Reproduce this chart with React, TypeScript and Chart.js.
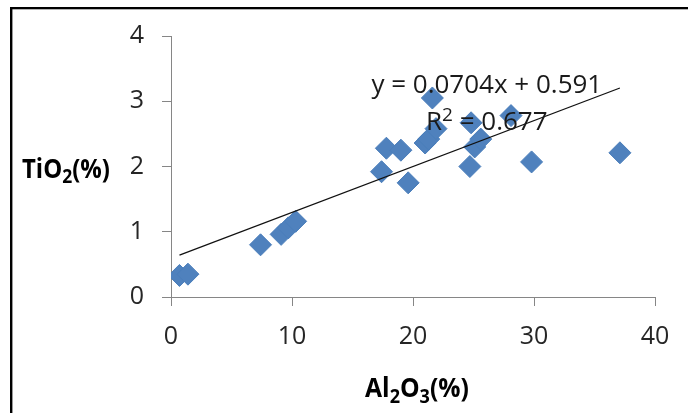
import React, { useEffect, useRef } from 'react';
import { Chart, registerables } from 'chart.js';

Chart.register(...registerables);

// ---- data ----
const AL2O3 = [0.7, 1.4, 7.4, 9.1, 9.7, 10.3, 17.4, 17.8, 19.0, 19.6, 21.0, 21.3, 21.9, 21.6, 24.7, 24.8, 25.1, 25.6, 28.1, 29.8, 37.1];
const TIO2 = [0.33, 0.35, 0.80, 0.96, 1.06, 1.16, 1.92, 2.28, 2.25, 1.75, 2.36, 2.42, 2.58, 3.05, 2.00, 2.67, 2.30, 2.42, 2.78, 2.07, 2.21];
const X_TICKS = [0, 10, 20, 30, 40];
const Y_TICKS = [0, 1, 2, 3, 4];
const TREND_SLOPE = 0.0704;
const TREND_INTERCEPT = 0.591;
const TREND_RANGE = [0.7, 37.1];
const EQUATION = 'y = 0.0704x + 0.591';
const R2_PARTS = [{ t: 'R' }, { t: '2', sup: true }, { t: ' = 0.677' }];
const Y_TITLE = [{ t: 'TiO' }, { t: '2', sub: true }, { t: '(%)' }];
const X_TITLE = [{ t: 'Al' }, { t: '2', sub: true }, { t: 'O' }, { t: '3', sub: true }, { t: '(%)' }];

const FONT = '"Open Sans", "Liberation Sans", sans-serif';

type Part = { t: string; sub?: boolean; sup?: boolean };

function drawRich(ctx: CanvasRenderingContext2D, parts: Part[], x: number, y: number, align: 'left' | 'center', size: number, bold: boolean, color: string, squeeze = 1) {
  const w = bold ? 'bold ' : '';
  const fontFor = (p: Part) => `${w}${p.sub || p.sup ? Math.round(size * 0.72) : size}px ${FONT}`;
  let total = 0;
  const widths = parts.map((p) => {
    ctx.font = fontFor(p);
    const m = ctx.measureText(p.t).width;
    total += m;
    return m;
  });
  ctx.save();
  ctx.translate(x, y);
  ctx.scale(squeeze, 1);
  let cx = align === 'center' ? -total / 2 : 0;
  ctx.fillStyle = color;
  ctx.textBaseline = 'alphabetic';
  ctx.textAlign = 'left';
  parts.forEach((p, i) => {
    ctx.font = fontFor(p);
    let dy = 0;
    if (p.sub) dy = size * 0.22;
    if (p.sup) dy = -size * 0.36;
    ctx.fillText(p.t, cx, dy);
    cx += widths[i];
  });
  ctx.restore();
}

const annotations = {
  id: 'annotations',
  beforeDraw(chart: any) {
    const ctx = chart.ctx as CanvasRenderingContext2D;
    ctx.save();
    ctx.fillStyle = '#ffffff';
    ctx.fillRect(0, 0, chart.width, chart.height);
    ctx.fillStyle = '#000000';
    ctx.fillRect(10, 7, chart.width - 10, 2.3);
    ctx.fillRect(10, 7, 2.4, chart.height - 7);
    ctx.restore();
  },
  afterDraw(chart: any) {
    const ctx = chart.ctx as CanvasRenderingContext2D;
    const xs = chart.scales.x;
    const ys = chart.scales.y;
    const area = chart.chartArea;
    // trendline label
    drawRich(ctx, [{ t: EQUATION }], xs.getPixelForValue(26.1), ys.getPixelForValue(3.12), 'center', 26, false, '#1a1a1a');
    drawRich(ctx, R2_PARTS, xs.getPixelForValue(26.1), ys.getPixelForValue(2.56), 'center', 26, false, '#1a1a1a');
    // axis titles
    drawRich(ctx, Y_TITLE, area.left - 149, ys.getPixelForValue(2) + 11, 'left', 26, true, '#000000', 0.92);
    drawRich(ctx, X_TITLE, (area.left + area.right) / 2 + 4, area.bottom + 100, 'center', 26, true, '#000000', 0.95);
  },
};

export default function App() {
  const ref = useRef<HTMLCanvasElement>(null);
  useEffect(() => {
    if (!ref.current) return;
    const scatter = AL2O3.map((x, i) => ({ x, y: TIO2[i] }));
    const trend = TREND_RANGE.map((x) => ({ x, y: TREND_SLOPE * x + TREND_INTERCEPT }));
    const chart = new Chart(ref.current, {
      type: 'scatter',
      data: {
        datasets: [
          {
            type: 'line',
            data: trend,
            borderColor: '#111111',
            borderWidth: 1.3,
            pointRadius: 0,
            fill: false,
          } as any,
          {
            data: scatter,
            pointStyle: 'rectRot',
            pointRadius: 11,
            backgroundColor: '#4F81BD',
            borderColor: '#4A7EBB',
            borderWidth: 1,
          },
        ],
      },
      plugins: [annotations],
      options: {
        animation: false,
        responsive: false,
        events: [],
        layout: { padding: { left: 0, right: 33, top: 36, bottom: 0 } },
        plugins: { legend: { display: false }, tooltip: { enabled: false }, title: { display: false } },
        scales: {
          x: {
            type: 'linear',
            min: 0,
            max: 40,
            afterBuildTicks: (s: any) => { s.ticks = X_TICKS.map((v) => ({ value: v })); },
            afterFit: (s: any) => { s.height = 116; },
            ticks: { font: { family: FONT, size: 25 }, color: '#262626', padding: 16, maxRotation: 0 },
            grid: { drawOnChartArea: false, drawTicks: true, tickLength: 9, color: '#868686' },
            border: { color: '#868686', width: 1 },
          },
          y: {
            type: 'linear',
            min: 0,
            max: 4,
            afterBuildTicks: (s: any) => { s.ticks = Y_TICKS.map((v) => ({ value: v })); },
            afterFit: (s: any) => { s.width = 171; },
            ticks: { font: { family: FONT, size: 25 }, color: '#262626', padding: 18 },
            grid: { drawOnChartArea: false, drawTicks: true, tickLength: 9, color: '#868686' },
            border: { color: '#868686', width: 1 },
          },
        },
      },
    });
    return () => chart.destroy();
  }, []);
  return (
    <div style={{ position: 'absolute', left: 0, top: 0, width: 688, height: 413 }}>
      <canvas ref={ref} width={688} height={413} style={{ width: 688, height: 413, display: 'block' }} />
    </div>
  );
}
